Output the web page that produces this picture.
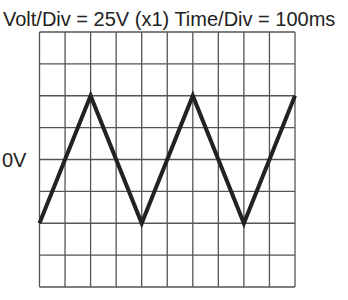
<!DOCTYPE html>
<html>
<head>
<meta charset="utf-8">
<script src="https://cdn.jsdelivr.net/npm/d3@7"></script>
<style>
    body { margin: 0; background: #fff; }
    svg { display: block; }
</style>
</head>
<body>
<div id="scope"></div>
<script>

// scope settings
const titleText = "Volt/Div = 25V (x1) Time/Div = 100ms";
const zeroLabel = "0V";

// grid divisions (ms and V)
const timeTicks = [0, 100, 200, 300, 400, 500, 600, 700, 800, 900, 1000];
const voltTicks = [-100, -75, -50, -25, 0, 25, 50, 75, 100];

// triangle wave corners
const waveTime = [0, 200, 400, 600, 800, 1000];
const waveVolt = [-50, 50, -50, 50, -50, 50];

document.addEventListener("DOMContentLoaded", function () {
    drawScope();
});

function drawScope() {

    let width = 348,
        height = 300;

    let svg = d3
        .select("#scope")
        .append("svg")
        .attr("width", width)
        .attr("height", height);

    let xScale = d3
        .scaleLinear()
        .domain([0, 1000])
        .range([39.5, 295]);

    let yScale = d3
        .scaleLinear()
        .domain([-100, 100])
        .range([287, 32]);

    // title
    svg
        .append("text")
        .attr("x", 3)
        .attr("y", 26)
        .style("font-family", "'Liberation Sans', Arial, sans-serif")
        .style("font-size", "20px")
        .style("fill", "#222")
        .text(titleText);

    // grid
    svg
        .selectAll("line.vgrid")
        .data(timeTicks)
        .enter()
        .append("line")
        .attr("class", "vgrid")
        .attr("x1", d => xScale(d))
        .attr("x2", d => xScale(d))
        .attr("y1", yScale(-100))
        .attr("y2", yScale(100))
        .attr("stroke", "#555")
        .attr("stroke-width", 1.3);

    svg
        .selectAll("line.hgrid")
        .data(voltTicks)
        .enter()
        .append("line")
        .attr("class", "hgrid")
        .attr("x1", xScale(0))
        .attr("x2", xScale(1000))
        .attr("y1", d => yScale(d))
        .attr("y2", d => yScale(d))
        .attr("stroke", "#555")
        .attr("stroke-width", 1.3);

    // 0V marker
    svg
        .append("text")
        .attr("x", 2)
        .attr("y", yScale(0))
        .attr("dy", "0.35em")
        .style("font-family", "'Liberation Sans', Arial, sans-serif")
        .style("font-size", "20px")
        .style("fill", "#222")
        .text(zeroLabel);

    // wave
    const line = d3
        .line()
        .x(d => xScale(d[0]))
        .y(d => yScale(d[1]));

    svg
        .append("path")
        .datum(d3.zip(waveTime, waveVolt))
        .attr("d", line)
        .attr("fill", "none")
        .attr("stroke", "#222")
        .attr("stroke-width", 4)
        .attr("stroke-linejoin", "miter");
}
</script>
</body>
</html>
